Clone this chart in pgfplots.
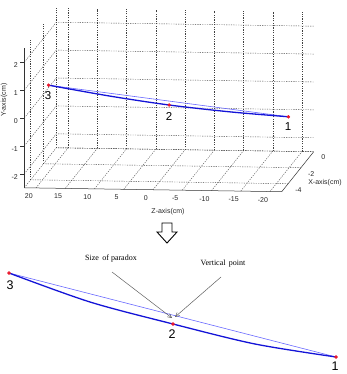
\documentclass[border=0pt]{standalone}
\usepackage{pgfplots}
\pgfplotsset{compat=1.18}
\usepackage{fontspec}
\setmainfont{Liberation Sans}
\newfontfamily\serifmain{Liberation Serif}
\usetikzlibrary{arrows.meta}
\definecolor{thickblue}{RGB}{20,20,215}
\definecolor{thinblue}{RGB}{105,105,255}
\definecolor{ptred}{RGB}{235,25,45}
\definecolor{annogray}{RGB}{95,95,95}

\begin{document}
\begin{tikzpicture}[x=1pt,y=1pt]
\useasboundingbox (0,0) rectangle (346,374);
\begin{axis}[
  at={(185pt,294pt)}, anchor=origin,
  disabledatascaling,
  x={(5.85pt,-0.09pt)}, x dir=reverse,
  y={(6.4pt,8pt)},
  z={(0pt,27.9pt)},
  xmin=-22,xmax=22,ymin=-5,ymax=0,zmin=-2.5,zmax=2.5,
  xtick={-20,-15,...,20}, ytick={-4,-2,0}, ztick={-2,-1,0,1,2},
  grid=major,
  major grid style={black!75, dash pattern=on 1.2pt off 1.2pt, line width=0.4pt},
  axis line style={draw=none},
  tick style={draw=none},
  major tick length=0pt,
  ticklabel style={font=\fontsize{7}{8}\selectfont, text=black!85},
  xticklabel style={xshift=-5pt, yshift=-2pt},
  yticklabel style={xshift=4pt},
  zticklabel style={xshift=-3pt},
  /pgf/number format/assume math mode=true,
  clip=false,
]
\draw[black!80, line width=0.5pt] (axis cs:22,-5,-2.5) -- (axis cs:-22,-5,-2.5) -- (axis cs:-22,0,-2.5);
\draw[black!80, line width=0.5pt] (axis cs:22,-5,-2.5) -- (axis cs:22,-5,2.5);
\draw[black!75, dash pattern=on 1.2pt off 1.2pt, line width=0.4pt] (axis cs:22,-5,-2.5) -- (axis cs:22,0,-2.5) -- (axis cs:-22,0,-2.5);
\draw[black!75, dash pattern=on 1.2pt off 1.2pt, line width=0.4pt] (axis cs:22,0,-2.5) -- (axis cs:22,0,2.5);
% tick marks on the Y axis
\draw[black!80, line width=0.5pt] (axis cs:22,-5,-2) -- ++(-4pt,0pt);
\draw[black!80, line width=0.5pt] (axis cs:22,-5,-1) -- ++(-4pt,0pt);
\draw[black!80, line width=0.5pt] (axis cs:22,-5,0) -- ++(-4pt,0pt);
\draw[black!80, line width=0.5pt] (axis cs:22,-5,1) -- ++(-4pt,0pt);
\draw[black!80, line width=0.5pt] (axis cs:22,-5,2) -- ++(-4pt,0pt);
\addplot3[thinblue, line width=0.6pt] coordinates {(19.49,-3.5,0.755) (-21.51,-3.5,-0.246)};
\addplot3[thickblue, line width=1.3pt, smooth] coordinates {(19.49,-3.5,0.755) (9.02,-3.5,0.398) (-1.10,-3.5,0.111) (-11.56,-3.5,-0.102) (-21.51,-3.5,-0.246)};
\addplot3[only marks, mark=*, mark size=1.5pt, ptred] coordinates {(19.49,-3.5,0.755) (-1.10,-3.5,0.111) (-21.51,-3.5,-0.246)};
\end{axis}

\begin{axis}[
  at={(0pt,0pt)}, anchor=south west,
  scale only axis, width=346pt, height=374pt,
  xmin=0, xmax=346, ymin=0, ymax=374, y dir=reverse,
  hide axis, clip=false,
]
\addplot[thinblue, line width=0.6pt] coordinates {(9,273) (336,357)};
\addplot[thickblue, line width=1.3pt, smooth] coordinates {(9,273) (90,302) (173,324) (255,344) (336,357)};
\addplot[only marks, mark=*, mark size=1.5pt, ptred] coordinates {(9,273) (173,324) (336,357)};
% hollow arrow
\draw[black, line width=0.9pt, fill=white] (axis cs:162,223) -- (axis cs:172,223) -- (axis cs:172,232) -- (axis cs:177,232) -- (axis cs:167,243) -- (axis cs:157,232) -- (axis cs:162,232) -- cycle;
% annotation arrows
\draw[annogray, line width=0.5pt, -{Straight Barb[length=4pt,width=4pt]}] (axis cs:112,272) -- (axis cs:172,318);
\draw[annogray, line width=0.5pt, -{Straight Barb[length=4pt,width=4pt]}] (axis cs:221,277) -- (axis cs:175,317);
\node[font=\serifmain\fontsize{8}{9}\selectfont] at (axis cs:111,259) {Size\, of paradox};
\node[font=\serifmain\fontsize{8}{9}\selectfont] at (axis cs:223,264) {Vertical\, point};
% point labels
\node[font=\fontsize{11.5}{12}\selectfont] at (axis cs:48,96) {3};
\node[font=\fontsize{11.5}{12}\selectfont] at (axis cs:169,116) {2};
\node[font=\fontsize{11.5}{12}\selectfont] at (axis cs:288,127) {1};
\node[font=\fontsize{12.5}{13}\selectfont] at (axis cs:10,285) {3};
\node[font=\fontsize{12.5}{13}\selectfont] at (axis cs:172,334) {2};
\node[font=\fontsize{12.5}{13}\selectfont] at (axis cs:335,366) {1};
% axis labels
\node[font=\fontsize{7}{8}\selectfont, text=black!85] at (axis cs:168,212) {Z-axis(cm)};
\node[font=\fontsize{7}{8}\selectfont, text=black!85] at (axis cs:325,183) {X-axis(cm)};
\node[font=\fontsize{7}{8}\selectfont, text=black!85, rotate=90, inner sep=0pt] at (axis cs:4,100) {Y-axis(cm)};
\end{axis}
\end{tikzpicture}
\end{document}
